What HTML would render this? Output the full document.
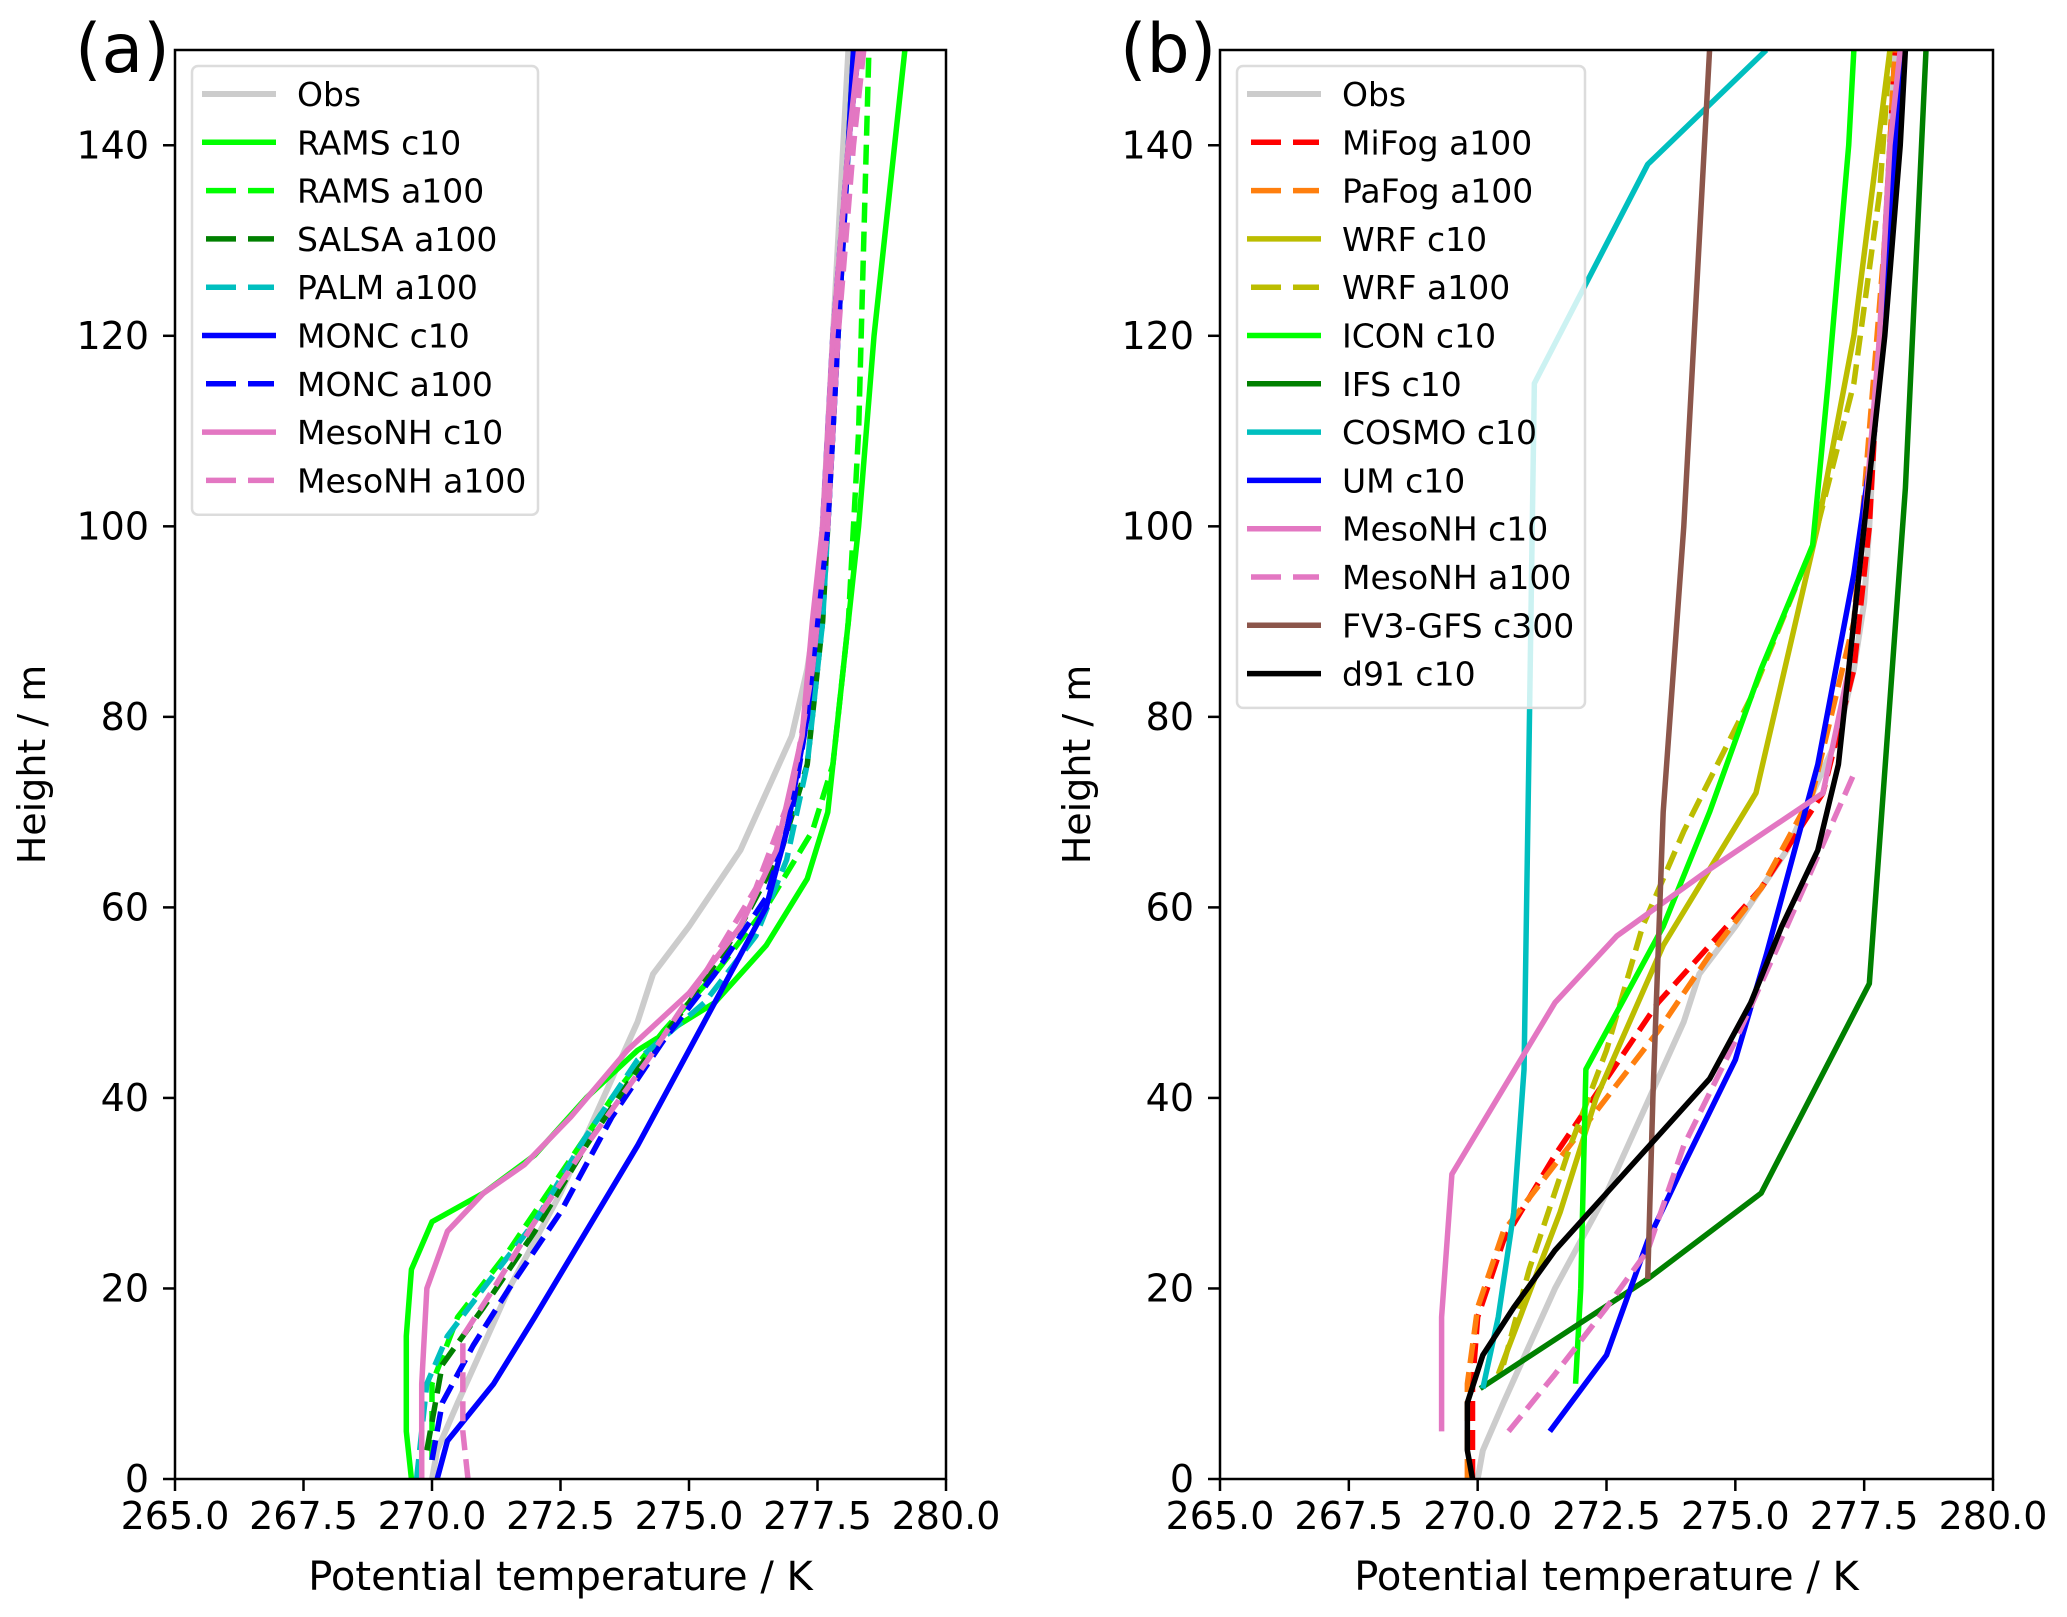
<!DOCTYPE html>
<html><head><meta charset="utf-8"><style>
html,body{margin:0;padding:0;background:#fff}
svg{display:block;font-family:"DejaVu Sans","Liberation Sans",sans-serif}
</style></head><body>
<svg id="fig" width="2067" height="1617" viewBox="0 0 2067 1617" xmlns="http://www.w3.org/2000/svg"></svg>
<script>
const xTicks=[265.0,267.5,270.0,272.5,275.0,277.5,280.0];
const yTicks=[0,20,40,60,80,100,120,140];
const obs=[[270.0,0],[270.1,3],[270.5,8],[271,14],[271.5,20],[272,25],[272.5,30],[273,36],[273.5,42],[274,48],[274.3,53],[275,58],[275.5,62],[276,66],[276.5,72],[277,78],[277.3,85],[277.5,92],[277.6,100],[277.7,110],[277.8,120],[277.9,130],[278,140],[278.1,150]];
const ramsC10=[[269.6,0],[269.5,5],[269.5,15],[269.6,22],[270,27],[271,30],[272,34],[273,40],[274,45],[275.5,50],[276.5,56],[277.3,63],[277.7,70],[277.9,80],[278.1,90],[278.3,100],[278.6,120],[278.9,135],[279.2,150]];
const ramsA100=[[270.0,2],[270.0,10],[270.5,17],[271.5,24],[272.5,32],[273.5,40],[274.5,47],[275.5,53],[276.5,60],[277.4,68],[277.8,75],[278.1,90],[278.3,110],[278.4,130],[278.5,150]];
const salsaA100=[[269.9,3],[270.2,12],[271,18],[272,26],[273,35],[274,43],[275,50],[276,58],[276.8,66],[277.3,75],[277.6,90],[277.8,110],[278,130],[278.2,150]];
const palmA100=[[269.7,0],[269.9,10],[270.3,15],[271,20],[272,27],[273,36],[274,44],[275.3,50],[276.3,57],[276.9,65],[277.3,75],[277.6,90],[277.8,110],[278,130],[278.2,150]];
const moncC10=[[270.1,0],[270.3,4],[270.6,6],[271.2,10],[272,17],[273,26],[274,35],[275,45],[275.8,53],[276.5,60],[276.9,68],[277.3,80],[277.5,90],[277.7,100],[277.9,120],[278.1,140],[278.2,150]];
const moncA100=[[270.0,2],[270.2,8],[270.8,14],[271.5,20],[272.5,28],[273.5,38],[274.5,46],[275.5,53],[276.5,61],[277,70],[277.3,80],[277.6,100],[277.8,120],[278.1,140],[278.3,150]];
const mesoC10a=[[269.8,0],[269.8,10],[269.9,20],[270.3,26],[271,30],[271.8,33],[272.7,38],[273.8,45],[275,51],[276,58],[276.7,66],[277.2,78],[277.4,90],[277.6,100],[277.8,120],[278.1,140],[278.3,150]];
const mesoA100a=[[270.7,0],[270.6,5],[270.6,15],[271.2,20],[272,27],[273,35],[274.2,44],[275.3,53],[276.3,62],[277,72],[277.4,85],[277.7,100],[277.9,120],[278.2,140],[278.4,150]];
const mifog=[[269.9,0],[269.9,10],[270,17],[270.5,25],[271.5,34],[272.5,42],[273.5,50],[274.5,56],[275.5,62],[276.7,72],[277.3,85],[277.6,100],[277.8,120],[278,140],[278.1,150]];
const pafog=[[269.8,0],[269.8,10],[270,18],[270.5,26],[271.5,33],[272.5,40],[273.5,47],[274.5,55],[275.5,62],[276.5,72],[277.3,90],[277.6,110],[277.9,130],[278.1,150]];
const wrfC10=[[270.4,11],[271.6,28],[272.3,40],[273.6,56],[275.4,72],[276.6,100],[277.3,120],[278,150]];
const wrfA100=[[270.5,12],[271,22],[271.8,35],[272.5,45],[273.2,58],[274,68],[275.3,82],[276.5,98],[277.3,115],[277.8,135],[278,150]];
const iconC10=[[271.9,10],[272,20],[272.1,43],[272.8,50],[273.6,58],[274.5,70],[275.5,85],[276.5,98],[276.8,115],[277.2,140],[277.3,150]];
const ifsC10=[[270.05,9.5],[273.3,21],[275.5,30],[277.6,52],[278.3,104],[278.7,150]];
const cosmoC10=[[270.1,9.5],[270.4,17],[270.7,28],[270.9,43],[271.0,78],[271.1,115],[273.3,138],[275.6,150]];
const umC10=[[271.4,5],[272.5,13],[273.3,25],[274,33],[275,44],[275.6,55],[276.6,75],[277.3,95],[277.7,110],[278,130],[278.2,150]];
const mesoC10b=[[269.3,5],[269.3,17],[269.5,32],[271.5,50],[272.7,57],[274.5,64],[276.7,72],[277.2,85],[277.5,100],[277.8,120],[278,140],[278.2,150]];
const mesoA100b=[[270.6,5],[271.5,11],[272.5,18],[273.3,24],[274,35],[275,46],[276,58],[277.3,74]];
const fv3=[[273.3,21],[273.4,40],[273.6,70],[274,100],[274.3,130],[274.5,150]];
const d91=[[269.9,0],[269.8,3],[269.8,8],[270.1,13],[270.7,18],[271.5,24],[272.5,30],[273.5,36],[274.5,42],[275.3,50],[275.9,58],[276.6,66],[277,75],[277.3,90],[277.6,105],[277.9,120],[278.2,140],[278.3,150]];

const NS='http://www.w3.org/2000/svg';
const svg=document.getElementById('fig');
function mk(tag,attrs,parent){const e=document.createElementNS(NS,tag);for(const k in attrs)e.setAttribute(k,attrs[k]);(parent||svg).appendChild(e);return e;}
const X0=265,X1=280,Y0=0,Y1=150;
const plotTop=50,plotBottom=1479;
function panel(id,left,right,label,series,legendW){
  const g=mk('g',{});
  
  
  const sx=v=>left+(v-X0)/(X1-X0)*(right-left);
  const sy=v=>plotBottom-(v-Y0)/(Y1-Y0)*(plotBottom-plotTop);
  const clip=mk('clipPath',{id:'clip'+id},g);
  mk('rect',{x:left,y:plotTop,width:right-left,height:plotBottom-plotTop},clip);
  const lines=mk('g',{'clip-path':'url(#clip'+id+')'},g);
  series.forEach(s=>{
    const p=mk('polyline',{points:s.data.map(d=>sx(d[0])+','+sy(d[1])).join(' '),fill:'none',stroke:s.color,'stroke-width':s.w||5.5,'stroke-linejoin':'round','stroke-dasharray':s.dash?'20,9':'none'},lines);
    
    
  });
  const fr=mk('rect',{x:left,y:plotTop,width:right-left,height:plotBottom-plotTop,fill:'none',stroke:'#000','stroke-width':2.5},g);
  
  
  xTicks.forEach(t=>{
    mk('line',{x1:sx(t),x2:sx(t),y1:plotBottom,y2:plotBottom+12,stroke:'#000','stroke-width':2.5},g);
    const tx=mk('text',{x:sx(t),y:plotBottom+50,'font-size':38,'text-anchor':'middle'},g);
    tx.textContent=t.toFixed(1);
    
    
  });
  yTicks.forEach(t=>{
    mk('line',{x1:left-12,x2:left,y1:sy(t),y2:sy(t),stroke:'#000','stroke-width':2.5},g);
    const tx=mk('text',{x:left-26,y:sy(t)+13,'font-size':38,'text-anchor':'end'},g);
    tx.textContent=t;
    
    
  });
  const xl=mk('text',{x:(left+right)/2,y:1590,'font-size':40,'text-anchor':'middle'},g);
  xl.textContent='Potential temperature / K';
  
  
  const yc=left-130,ym=(plotTop+plotBottom)/2;
  const yl=mk('text',{x:yc,y:ym,'font-size':38,'text-anchor':'middle',transform:'rotate(-90 '+yc+' '+ym+')'},g);
  yl.textContent='Height / m';
  
  
  const pl=mk('text',{x:left-100,y:72,'font-size':68},g);
  pl.textContent=label;
  
  
  const lx=left+17,ly=66,sp=48.3;
  const lg=mk('g',{},g);
  
  
  mk('rect',{x:lx,y:ly,width:legendW,height:sp*series.length+14,rx:6,fill:'#fff','fill-opacity':0.8,stroke:'#dcdcdc','stroke-width':2.5},lg);
  series.forEach((s,i)=>{
    const yy=ly+28+i*sp;
    const e=mk('g',{},lg);
    
    
    if(s.dash){
      mk('line',{x1:lx+14,x2:lx+44,y1:yy,y2:yy,stroke:s.color,'stroke-width':s.w||5.5},e);
      mk('line',{x1:lx+56,x2:lx+82,y1:yy,y2:yy,stroke:s.color,'stroke-width':s.w||5.5},e);
    } else mk('line',{x1:lx+10,x2:lx+84,y1:yy,y2:yy,stroke:s.color,'stroke-width':s.w||5.5},e);
    const t=mk('text',{x:lx+105,y:yy+12,'font-size':33},e);
    t.textContent=s.name;
  });
}
panel('a',175,946,'(a)',[
 {name:'Obs',data:obs,color:'#cccccc',w:6},
 {name:'RAMS c10',data:ramsC10,color:'#00ff00'},
 {name:'RAMS a100',data:ramsA100,color:'#00ff00',dash:1},
 {name:'SALSA a100',data:salsaA100,color:'#008000',dash:1},
 {name:'PALM a100',data:palmA100,color:'#00bfbf',dash:1},
 {name:'MONC c10',data:moncC10,color:'#0000ff'},
 {name:'MONC a100',data:moncA100,color:'#0000ff',dash:1},
 {name:'MesoNH c10',data:mesoC10a,color:'#e377c2'},
 {name:'MesoNH a100',data:mesoA100a,color:'#e377c2',dash:1}
],346);
panel('b',1220,1993,'(b)',[
 {name:'Obs',data:obs,color:'#cccccc',w:6},
 {name:'MiFog a100',data:mifog,color:'#ff0000',dash:1},
 {name:'PaFog a100',data:pafog,color:'#ff7f0e',dash:1},
 {name:'WRF c10',data:wrfC10,color:'#bcbd00'},
 {name:'WRF a100',data:wrfA100,color:'#bcbd00',dash:1},
 {name:'ICON c10',data:iconC10,color:'#00ff00'},
 {name:'IFS c10',data:ifsC10,color:'#008000'},
 {name:'COSMO c10',data:cosmoC10,color:'#00bfbf'},
 {name:'UM c10',data:umC10,color:'#0000ff'},
 {name:'MesoNH c10',data:mesoC10b,color:'#e377c2'},
 {name:'MesoNH a100',data:mesoA100b,color:'#e377c2',dash:1},
 {name:'FV3-GFS c300',data:fv3,color:'#8c564b'},
 {name:'d91 c10',data:d91,color:'#000000'}
],348);
</script>
</body></html>
